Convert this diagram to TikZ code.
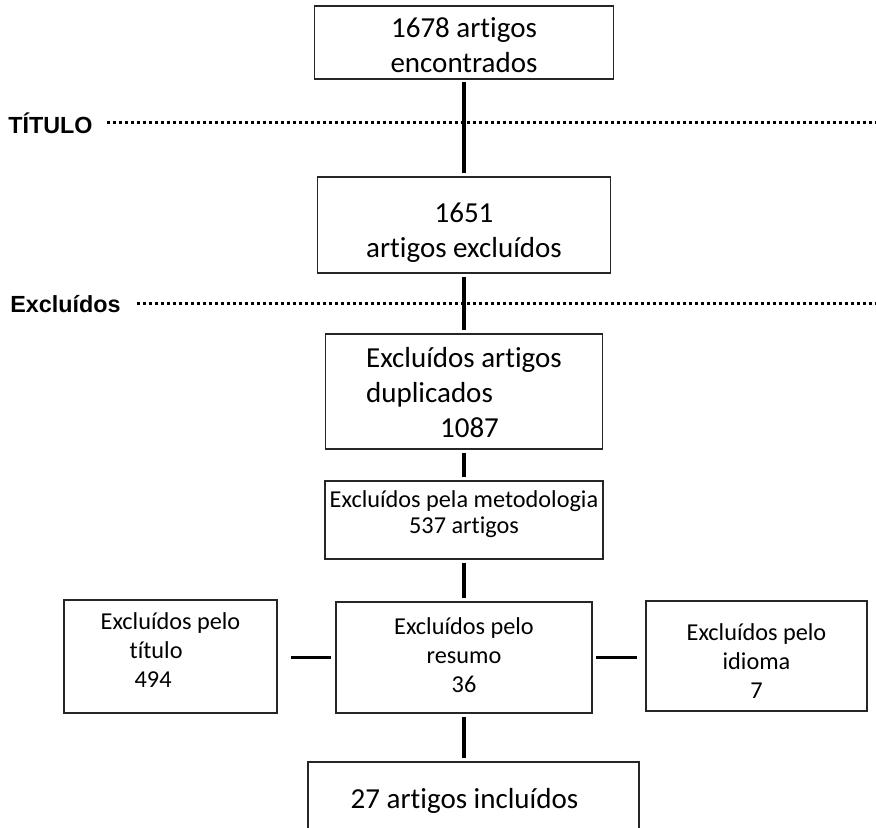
\documentclass[tikz,border=0pt]{standalone}
\usepackage{fontspec}
\setmainfont[Ligatures=NoCommon]{Carlito}
\newfontfamily\headfont{Liberation Sans}
\usepackage{tikz}
\usetikzlibrary{positioning}

\begin{document}
\begin{tikzpicture}[
    x=0.75pt, y=-0.75pt,
    stagebox/.style={rectangle, draw=black!85, line width=1.4pt, inner sep=0pt, align=center,
        text depth=5pt, font=\fontsize{21.75}{26.25}\selectfont},
    smallbox/.style={stagebox, font=\fontsize{18.2}{21.5}\selectfont},
    sidelabel/.style={inner sep=0pt, anchor=base west, font=\headfont\bfseries\fontsize{17.5}{20}\selectfont},
    link/.style={line width=2.5pt, black, shorten <=2pt, shorten >=2pt},
    dotline/.style={line width=2.1pt, dash pattern=on 2.1pt off 2.4pt, black}
]
\clip (0,0) rectangle (876,828);
\fill[white] (0,0) rectangle (876,828);

% Stage boxes
\node[stagebox, text height=49.25pt, minimum width=224.25pt, minimum height=51.75pt] (found) at (464,42.5) {1678 artigos\\encontrados};

\node[stagebox, text height=53pt, minimum width=219.75pt, minimum height=72pt] (excl) at (464,225) {1651\\artigos excluídos};

\node[stagebox, text height=73.25pt, align=left, minimum width=207.75pt, minimum height=86.25pt] (dupl) at (464,391.5) {Excluídos artigos\\duplicados\\\hspace*{55.5pt}1087};

\node[smallbox, text height=24.5pt, font=\fontsize{18.2}{19.5}\selectfont, minimum width=208.5pt, minimum height=58.5pt] (metod) at (464,520) {Excluídos pela metodologia\\537 artigos};

\node[smallbox, text height=56.75pt, minimum width=192pt, minimum height=83.25pt] (resumo) at (464,657.5) {Excluídos pelo\\resumo\\36};

\node[smallbox, text height=50.75pt, align=left, minimum width=159.75pt, minimum height=84.75pt] (titulo) at (170.5,656.5) {Excluídos pelo\\\hspace*{21.75pt}título\\\hspace*{25.5pt}494};

\node[smallbox, text height=68pt, minimum width=165.75pt, minimum height=82.5pt] (idioma) at (756.5,656) {Excluídos pelo\\idioma\\7};

\node[stagebox, text height=8pt, minimum width=248.25pt, minimum height=66pt] (incl) at (473.5,806) {27 artigos incluídos\hspace*{13.5pt}};

% Side labels and dotted rules
\node[sidelabel] (lbltitulo) at (8,133) {TÍTULO};
\node[sidelabel] (lblexcl) at (10,312) {Excluídos};
\coordinate (rightedge) at (876,0);

\draw[dotline, shorten <=11pt] (lbltitulo.east) -- (lbltitulo.east -| rightedge);
\draw[dotline, shorten <=12pt] (lblexcl.east) -- (lblexcl.east -| rightedge);

% Connectors
\draw[link] (found) -- (excl);
\draw[link] (excl) -- (dupl);
\draw[link] (dupl) -- (metod);
\draw[link] (metod) -- (resumo);
\draw[link] (resumo.south) -- (resumo.south |- incl.north);
\draw[link, shorten <=9.75pt, shorten >=3pt] (titulo.east |- resumo.west) -- (resumo.west);
\draw[link, shorten <=2.25pt, shorten >=6pt] (resumo.east) -- (resumo.east -| idioma.west);

\end{tikzpicture}
\end{document}
